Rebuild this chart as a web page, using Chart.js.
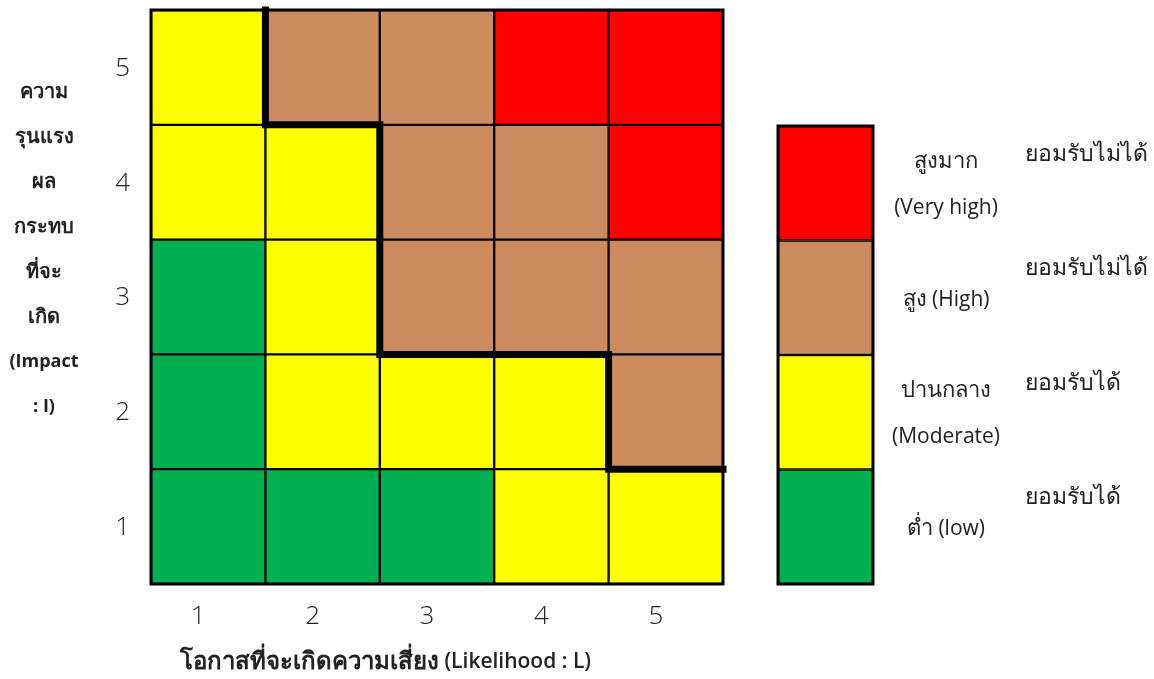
<!DOCTYPE html>
<html>
<head>
<meta charset="utf-8">
<script src="https://cdn.jsdelivr.net/npm/chart.js@4.4.1/dist/chart.umd.min.js"></script>
<style>
  html, body { margin: 0; padding: 0; background: #fff; }
  #wrap { position: relative; width: 1154px; height: 679px; }
  #wrap canvas { position: absolute; left: 0; top: 0; }
</style>
</head>
<body>
<div id="wrap">
  <canvas id="matrix" width="1154" height="679"></canvas>
  <canvas id="levels" width="1154" height="679"></canvas>
</div>
<script>
const likelihood = [1, 2, 3, 4, 5];
const impact = [1, 2, 3, 4, 5];
// risk level per cell, one row per impact (1..5), columns = likelihood 1..5
// 0 = low, 1 = moderate, 2 = high, 3 = very high
const riskGrid = [
  [0, 0, 0, 1, 1],
  [0, 1, 1, 1, 2],
  [0, 1, 2, 2, 2],
  [1, 1, 2, 2, 3],
  [1, 2, 2, 3, 3]
];
const levelColors = ['#00b050', '#ffff00', '#cc8c60', '#ff0000'];
const levelNames = [['ต่ำ (low)'], ['ปานกลาง', '(Moderate)'], ['สูง (High)'], ['สูงมาก', '(Very high)']];
const acceptance = ['ยอมรับได้', 'ยอมรับได้', 'ยอมรับไม่ได้', 'ยอมรับไม่ได้'];
const unacceptableFrom = 2;
const impactTitle = ['ความ', 'รุนแรง', 'ผล', 'กระทบ', 'ที่จะ', 'เกิด', '(Impact', ': I)'];
const likelihoodTitle = 'โอกาสที่จะเกิดความเสี่ยง (Likelihood : L)';

const FONT = "'Open Sans', 'Noto Sans', sans-serif";
const THAI = /[\u0E00-\u0E7F]/;

// staircase between acceptable and unacceptable cells
const boundary = [];
for (let r = impact.length; r >= 1; r--) {
  const idx = riskGrid[r - 1].findIndex(v => v >= unacceptableFrom);
  if (idx < 0) {
    boundary.push({ x: likelihood.length + 0.5, y: r + 0.5 });
    break;
  }
  boundary.push({ x: idx + 0.5, y: r + 0.5 }, { x: idx + 0.5, y: r - 0.5 });
}

// Thai runs and latin runs get their own font, like the original document
function drawMixed(ctx, text, x, y, align, thaiFont, latinFont) {
  const parts = text.split(/([\u0E00-\u0E7F]+)/).filter(p => p.length);
  const runs = parts.map(p => {
    ctx.font = THAI.test(p) ? thaiFont : latinFont;
    return { p, f: ctx.font, w: ctx.measureText(p).width };
  });
  const total = runs.reduce((s, r) => s + r.w, 0);
  let cx = align === 'center' ? x - total / 2 : x;
  ctx.textAlign = 'left';
  runs.forEach(r => {
    ctx.font = r.f;
    ctx.fillText(r.p, cx, y);
    cx += r.w;
  });
}

const frame = {
  id: 'frame',
  afterDatasetsDraw(chart) {
    const { ctx, chartArea: a } = chart;
    ctx.save();
    ctx.lineWidth = 3;
    ctx.strokeStyle = '#000';
    ctx.strokeRect(a.left, a.top, a.right - a.left, a.bottom - a.top);
    ctx.restore();
  }
};

const axisTitles = {
  id: 'axisTitles',
  afterDraw(chart) {
    const { ctx, chartArea: a } = chart;
    ctx.save();
    ctx.fillStyle = '#222';
    ctx.textBaseline = 'middle';
    impactTitle.forEach((t, i) =>
      drawMixed(ctx, t, 44, 92 + i * 45, 'center', 'bold 20px ' + FONT, 'bold 18px ' + FONT));
    drawMixed(ctx, likelihoodTitle, a.left + 29, 662, 'left', 'bold 24px ' + FONT, '600 21px ' + FONT);
    ctx.restore();
  }
};

const rowDatasets = impact.map((lvl, r) => ({
  type: 'bar',
  data: likelihood.map(l => ({ x: l, y: [lvl - 0.5, lvl + 0.5] })),
  backgroundColor: riskGrid[r].map(v => levelColors[v]),
  borderColor: '#000',
  borderWidth: 1.5,
  borderSkipped: false,
  grouped: false,
  barPercentage: 1,
  categoryPercentage: 1,
  order: 1
}));

new Chart(document.getElementById('matrix'), {
  type: 'bar',
  data: {
    datasets: [
      ...rowDatasets,
      {
        type: 'line',
        data: boundary,
        borderColor: '#000',
        borderWidth: 7,
        pointRadius: 0,
        tension: 0,
        borderJoinStyle: 'miter',
        borderCapStyle: 'square',
        clip: 10,
        order: 0
      }
    ]
  },
  options: {
    responsive: false,
    animation: false,
    layout: { padding: { top: 10, right: 431, left: 0, bottom: 0 } },
    plugins: { legend: { display: false }, tooltip: { enabled: false } },
    scales: {
      x: {
        type: 'linear',
        offset: false,
        min: 0.5,
        max: likelihood.length + 0.5,
        grid: { display: false },
        border: { display: false },
        afterBuildTicks: s => { s.ticks = likelihood.map(v => ({ value: v })); },
        afterFit: s => { s.height = 95; s.paddingLeft = 0; s.paddingRight = 0; },
        ticks: {
          padding: 9,
          labelOffset: -10,
          color: '#222',
          font: { family: FONT, size: 26, weight: '300' }
        }
      },
      y: {
        type: 'linear',
        min: 0.5,
        max: impact.length + 0.5,
        grid: { display: false },
        border: { display: false },
        afterBuildTicks: s => { s.ticks = impact.map(v => ({ value: v })); },
        afterFit: s => { s.width = 151; s.paddingTop = 0; s.paddingBottom = 0; },
        ticks: {
          padding: 13,
          labelOffset: 1,
          color: '#222',
          font: { family: FONT, size: 26, weight: '300' }
        }
      }
    }
  },
  plugins: [frame, axisTitles]
});

const legendText = {
  id: 'legendText',
  afterDraw(chart) {
    const { ctx, chartArea: a, scales: { y } } = chart;
    ctx.save();
    ctx.fillStyle = '#222';
    ctx.textBaseline = 'middle';
    levelNames.forEach((lines, i) => {
      const mid = y.getPixelForValue(i + 1);
      const top = y.getPixelForValue(i + 1.5);
      lines.forEach((t, k) => {
        const off = lines.length === 1 ? 2 : (k === 0 ? -22 : 25);
        drawMixed(ctx, t, a.right + 73, mid + off, 'center', '22px ' + FONT, '21px ' + FONT);
      });
      drawMixed(ctx, acceptance[i], a.right + 152, top + 28, 'left', '23px ' + FONT, '23px ' + FONT);
    });
    ctx.restore();
  }
};

new Chart(document.getElementById('levels'), {
  type: 'bar',
  data: {
    labels: [''],
    datasets: levelColors.map((c, i) => ({
      data: [[i + 0.5, i + 1.5]],
      backgroundColor: c,
      borderColor: '#000',
      borderWidth: 1.5,
      borderSkipped: false,
      grouped: false,
      barPercentage: 1,
      categoryPercentage: 1
    }))
  },
  options: {
    responsive: false,
    animation: false,
    layout: { padding: { left: 778, right: 281, top: 126, bottom: 95 } },
    plugins: { legend: { display: false }, tooltip: { enabled: false } },
    scales: {
      x: { display: false },
      y: { display: false, min: 0.5, max: levelColors.length + 0.5 }
    }
  },
  plugins: [frame, legendText]
});
</script>
</body>
</html>
